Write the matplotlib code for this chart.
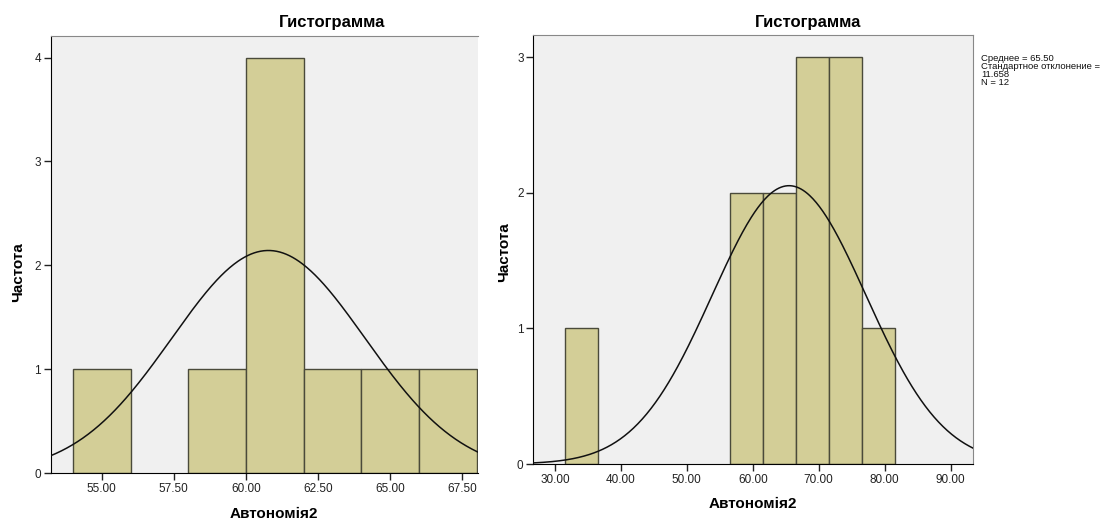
import numpy as np
import matplotlib
matplotlib.use("Agg")
from matplotlib import pyplot as plt

plt.rcParams['font.family'] = ['Liberation Sans', 'DejaVu Sans']

# ==================== Données ====================

# panneau gauche (intervalles de 2)
gauche_bords = [54, 56, 58, 60, 62, 64, 66, 68]
gauche_freq = [1, 0, 1, 4, 1, 1, 1]
gauche_moy = 60.78
gauche_et = 3.35
gauche_ticks = [55.0, 57.5, 60.0, 62.5, 65.0, 67.5]

# panneau droit (intervalles de 5)
droite_bords = [31.5, 36.5, 41.5, 46.5, 51.5, 56.5, 61.5, 66.5, 71.5, 76.5, 81.5]
droite_freq = [1, 0, 0, 0, 0, 2, 2, 3, 3, 1]
droite_moy = 65.50
droite_et = 11.658
droite_n = 12
droite_ticks = [30, 40, 50, 60, 70, 80, 90]

titre = "Гистограмма"
xlabel = "Автономія2"
ylabel = "Частота"

fond = "#f0f0f0"
barre = "#d3ce97"
bord = "#4a4a3a"


def tracerHisto(ax, bords, freq, moy, et, xlim, ylim, ticks, yticks):
    ax.set_facecolor(fond)
    bords = np.array(bords, dtype=float)
    larg = np.diff(bords)
    for i in range(len(freq)):
        if freq[i] > 0:
            ax.bar(bords[i], freq[i], width=larg[i], align='edge',
                   color=barre, edgecolor=bord, linewidth=1.0, zorder=2)
    # courbe normale
    n = sum(freq)
    w = larg[0]
    xs = np.linspace(xlim[0], xlim[1], 400)
    ys = n * w / (et * np.sqrt(2 * np.pi)) * np.exp(-(xs - moy) ** 2 / (2 * et ** 2))
    ax.plot(xs, ys, color='#111111', linewidth=1.1, zorder=3)
    ax.set_xlim(xlim)
    ax.set_ylim(ylim)
    ax.set_xticks(ticks)
    ax.set_xticklabels(["%.2f" % t for t in ticks])
    ax.set_yticks(yticks)
    ax.tick_params(direction='out', length=5, width=1, labelsize=8.5,
                   colors='#222222', pad=2)
    ax.spines['left'].set_color('black')
    ax.spines['bottom'].set_color('black')
    ax.spines['top'].set_color('#888888')
    ax.spines['right'].set_color('#888888')


fig = plt.figure(figsize=(11.02, 5.22), dpi=100)

ax1 = fig.add_axes([0.046, 0.0933, 0.3878, 0.8383])
tracerHisto(ax1, gauche_bords, gauche_freq, gauche_moy, gauche_et,
            (53.23, 68.05), (0, 4.21), gauche_ticks, [0, 1, 2, 3, 4])
ax1.spines['right'].set_visible(False)

ax2 = fig.add_axes([0.4839, 0.1111, 0.3987, 0.8224])
tracerHisto(ax2, droite_bords, droite_freq, droite_moy, droite_et,
            (26.71, 93.34), (0, 3.167), droite_ticks, [0, 1, 2, 3])

# titres et étiquettes
fig.text(332 / 1102, 1 - 22 / 522, titre, ha='center', va='center',
         fontsize=12, fontweight='bold')
fig.text(808 / 1102, 1 - 22 / 522, titre, ha='center', va='center',
         fontsize=12, fontweight='bold')
fig.text(274 / 1102, 1 - 514 / 522, xlabel, ha='center', va='center',
         fontsize=11, fontweight='bold')
fig.text(753 / 1102, 1 - 504 / 522, xlabel, ha='center', va='center',
         fontsize=11, fontweight='bold')
fig.text(18 / 1102, 1 - 272 / 522, ylabel, ha='center', va='center',
         rotation=90, fontsize=11, fontweight='bold')
fig.text(504 / 1102, 1 - 252 / 522, ylabel, ha='center', va='center',
         rotation=90, fontsize=11, fontweight='bold')

legende = ("Среднее = %.2f\nСтандартное отклонение =\n%.3f\nN = %d"
           % (droite_moy, droite_et, droite_n))
fig.text(981 / 1102, 1 - 54 / 522, legende, ha='left', va='top',
         fontsize=6.8, linespacing=0.85, color='#111111')

fig.savefig("out.png", dpi=100)
